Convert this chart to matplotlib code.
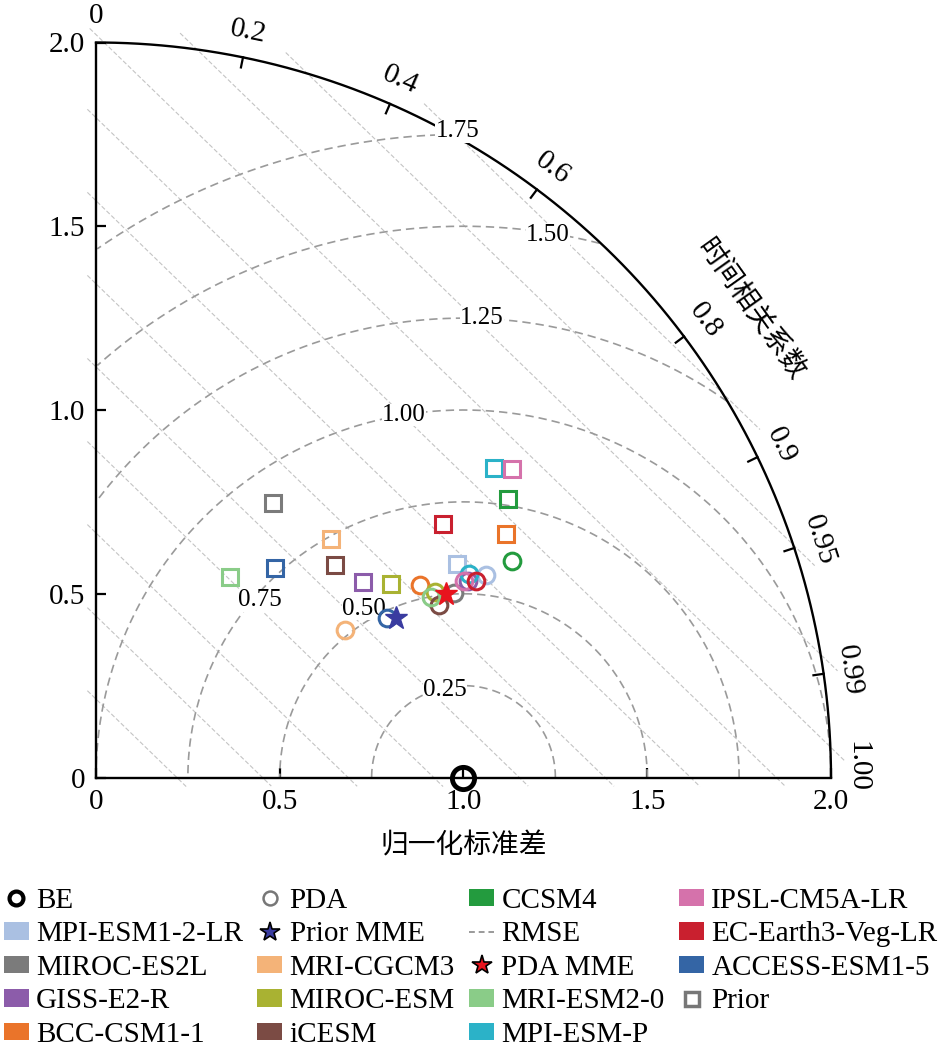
import numpy as np
import matplotlib.pyplot as plt
from matplotlib.patches import Patch
from matplotlib.lines import Line2D

plt.rcParams["font.family"] = ["Liberation Serif", "Noto Sans CJK SC"]
plt.rcParams["axes.unicode_minus"] = False

# ---- data: normalized std and temporal correlation ----
models = ["MPI-ESM1-2-LR", "MIROC-ES2L", "GISS-E2-R", "BCC-CSM1-1",
          "MRI-CGCM3", "MIROC-ESM", "iCESM", "CCSM4", "MRI-ESM2-0",
          "MPI-ESM-P", "IPSL-CM5A-LR", "EC-Earth3-Veg-LR", "ACCESS-ESM1-5"]
model_colors = ["#aac0e2", "#7b7b7b", "#8c5caa", "#ea742a", "#f4b378",
                "#a9b232", "#7b4b44", "#239b3e", "#8acc88", "#2bb2c8",
                "#d572ab", "#c9202f", "#3465a5"]

prior_std = [1.142, 0.888, 0.899, 1.296, 0.911, 0.961, 0.870,
             1.353, 0.655, 1.372, 1.408, 1.170, 0.750]
prior_corr = [0.861, 0.543, 0.807, 0.860, 0.702, 0.836, 0.747,
              0.829, 0.556, 0.789, 0.803, 0.808, 0.649]

pda_std = [1.196, 1.097, 1.146, 1.025, 0.789, 1.052, 1.044,
           1.275, 1.036, 1.155, 1.136, 1.165, 0.904]
pda_corr = [0.888, 0.889, 0.884, 0.860, 0.860, 0.878, 0.893,
            0.887, 0.881, 0.878, 0.882, 0.888, 0.877]

mme_names = ["Prior MME", "PDA MME"]
mme_std = [0.924, 1.076]
mme_corr = [0.883, 0.886]
mme_colors = ["#3a3ca0", "#e8141e"]

ref_std, ref_corr = 1.0, 1.0

rmse_levels = [0.25, 0.50, 0.75, 1.00, 1.25, 1.50, 1.75]
rmse_label_x = [0.95, 0.73, 0.446, 0.838, 1.05, 1.23, 0.984]
rmse_label_y = [0.239, 0.458, 0.482, 0.987, 1.25, 1.476, 1.758]

corr_ticks = [0, 0.2, 0.4, 0.6, 0.8, 0.9, 0.95, 0.99, 1.0]
corr_labels = ["0", "0.2", "0.4", "0.6", "0.8", "0.9", "0.95", "0.99", "1.00"]
std_ticks = [0, 0.5, 1.0, 1.5, 2.0]
std_labels = ["0", "0.5", "1.0", "1.5", "2.0"]


def to_xy(s, c):
    s = np.asarray(s)
    c = np.asarray(c)
    return s * c, s * np.sqrt(1 - c ** 2)


fig = plt.figure(figsize=(9.45, 10.53), dpi=100)
ax = fig.add_axes([96 / 945, 275 / 1053, 735 / 945, 736 / 1053])
ax.set_xlim(0, 2)
ax.set_ylim(0, 2)
ax.set_aspect("equal")
for side in ["top", "right"]:
    ax.spines[side].set_visible(False)
for side in ["left", "bottom"]:
    ax.spines[side].set_linewidth(1.7)
ax.set_xticks(std_ticks, std_labels)
ax.set_yticks(std_ticks, std_labels)
ax.tick_params(direction="in", length=7, width=1.6, labelsize=21, pad=8)

# faint diagonal guide lines
t = np.linspace(-0.1, 3.0, 1500)
for a in np.arange(0.22, 2.9, 0.233):
    yy = 0.97 * (a - t)
    keep = (np.hypot(t, yy) <= 2.04) & (t >= -0.025) & (yy >= -0.025)
    ax.plot(np.where(keep, t, np.nan), np.where(keep, yy, np.nan),
            color="#c4c4c4", lw=0.8, ls=(0, (4, 2)), clip_on=False, zorder=1)

# RMSE arcs around the reference point
th = np.linspace(0, np.pi, 600)
for lev, lx, ly in zip(rmse_levels, rmse_label_x, rmse_label_y):
    xx = ref_std + lev * np.cos(th)
    yy = lev * np.sin(th)
    keep = (np.hypot(xx, yy) <= 2.0) & (xx >= 0)
    ax.plot(np.where(keep, xx, np.nan), np.where(keep, yy, np.nan),
            color="#9a9a9a", lw=1.2, ls=(0, (5, 3)), zorder=2)
    ax.text(lx, ly, f"{lev:.2f}", fontsize=18, ha="center", va="center",
            zorder=3, bbox=dict(facecolor="white", edgecolor="none", pad=0.2))

# outer correlation arc
tq = np.linspace(0, np.pi / 2, 300)
ax.plot(2 * np.cos(tq), 2 * np.sin(tq), color="black", lw=1.7, clip_on=False)
for c, lab in zip(corr_ticks, corr_labels):
    ang = np.arccos(c)
    if 0 < c < 1:
        ax.plot([1.972 * np.cos(ang), 2 * np.cos(ang)],
                [1.972 * np.sin(ang), 2 * np.sin(ang)],
                color="black", lw=1.6, clip_on=False)
    rot = np.degrees(ang) - 90
    if c == 1.0:
        ang = 0.014  # nudge the last label clear of the "2.0" tick label
    ax.text(2.072 * np.cos(ang), 2.072 * np.sin(ang), lab, fontsize=21,
            rotation=rot, rotation_mode="anchor",
            ha="center", va="center", clip_on=False)

ang = np.radians(35.5)
ax.text(2.19 * np.cos(ang), 2.19 * np.sin(ang), "时间相关系数",
        family=["Noto Sans CJK SC"], fontsize=20, rotation=-54.5,
        rotation_mode="anchor", ha="center", va="center")
ax.text(1.0, -0.184, "归一化标准差", family=["Noto Sans CJK SC"],
        fontsize=20, ha="center", va="center")

# model points
px, py = to_xy(prior_std, prior_corr)
qx, qy = to_xy(pda_std, pda_corr)
for i, col in enumerate(model_colors):
    ax.plot(px[i], py[i], marker="s", ms=12, mfc="none", mec=col, mew=2.2,
            ls="none", zorder=5)
for i, col in enumerate(model_colors):
    ax.plot(qx[i], qy[i], marker="o", ms=12, mfc="none", mec=col, mew=2.2,
            ls="none", zorder=5)
mx, my = to_xy(mme_std, mme_corr)
for i, col in enumerate(mme_colors):
    ax.plot(mx[i], my[i], marker="*", ms=17, color=col, mec=col,
            ls="none", zorder=6)
bx, by = to_xy([ref_std], [ref_corr])
ax.plot(bx, by, marker="o", ms=16, mfc="none", mec="black", mew=3.5,
        ls="none", clip_on=False, zorder=7)

# legend
patches = [Patch(facecolor=c, edgecolor="none") for c in model_colors]
handles = list(patches)
labels = list(models)
handles.insert(0, Line2D([], [], marker="o", ms=10, mfc="none", mec="black",
                         mew=3, ls="none"))
labels.insert(0, "BE")
handles.insert(5, Line2D([], [], marker="o", ms=10, mfc="none", mec="#777777",
                         mew=1.8, ls="none"))
labels.insert(5, "PDA")
handles.insert(6, Line2D([], [], marker="*", ms=15, mfc=mme_colors[0],
                         mec="black", mew=1.2, ls="none"))
labels.insert(6, "Prior MME")
handles.insert(11, Line2D([], [], color="#9a9a9a", lw=1.4, ls=(0, (3, 2))))
labels.insert(11, "RMSE")
handles.insert(12, Line2D([], [], marker="*", ms=15, mfc=mme_colors[1],
                          mec="black", mew=1.2, ls="none"))
labels.insert(12, "PDA MME")
handles.append(Line2D([], [], marker="s", ms=10, mfc="none", mec="#777777",
                      mew=2.5, ls="none"))
labels.append("Prior")

fig.legend(handles, labels, ncol=4, loc="upper left",
           bbox_to_anchor=(0.004, 0.157), frameon=False, fontsize=21,
           handlelength=0.85, handleheight=0.55, handletextpad=0.25,
           columnspacing=0.5, labelspacing=0.26, borderpad=0,
           borderaxespad=0)

fig.savefig("out.png", dpi=100)
